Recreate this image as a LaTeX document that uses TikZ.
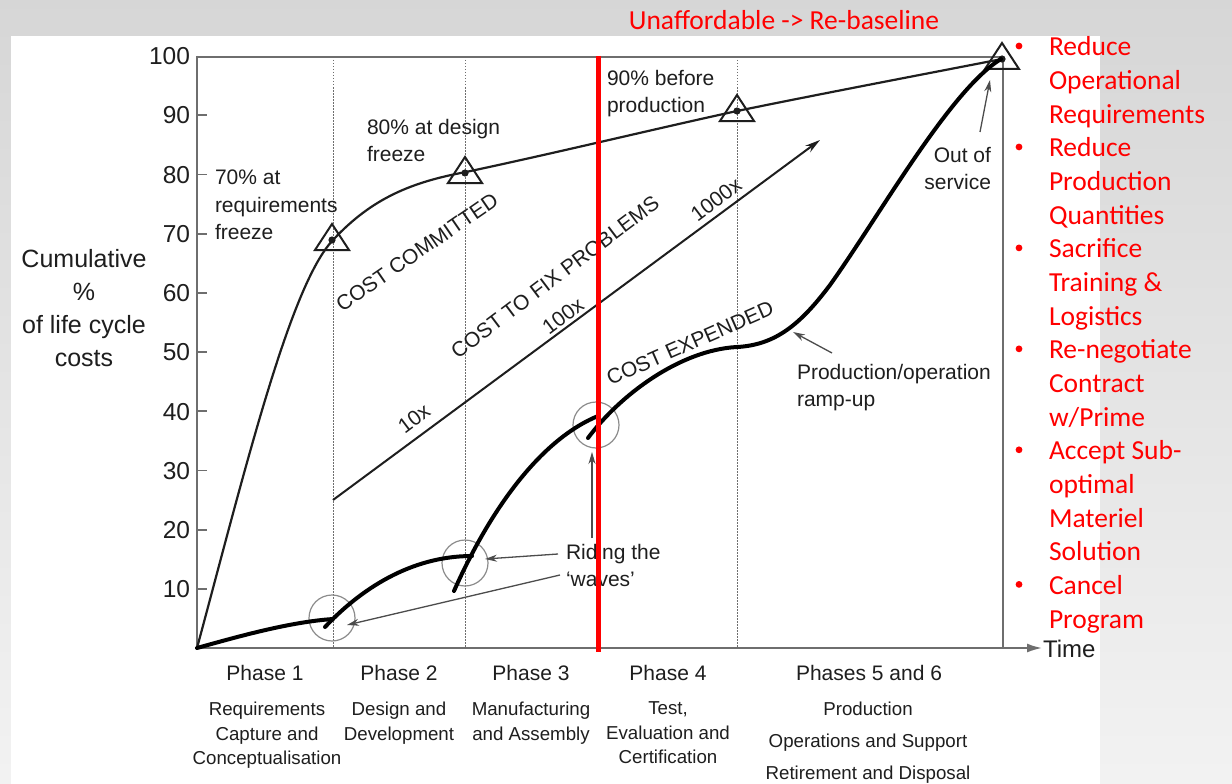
\documentclass[tikz,border=0pt]{standalone}
\usepackage{fontspec}
\setmainfont{Liberation Sans}
\newfontfamily\calib{Carlito}
\usetikzlibrary{arrows.meta}
\definecolor{ink}{HTML}{1E1E1E}
\definecolor{axisgray}{HTML}{6E6E6E}
\definecolor{circgray}{HTML}{8C8C8C}
\begin{document}
\begin{tikzpicture}[x=1pt,y=-1pt,
  every node/.style={inner sep=0pt,outer sep=0pt},
  chart/.style={text=ink},
  f21/.style={chart,font=\fontsize{21}{27.5}\selectfont},
  f19/.style={chart,font=\fontsize{18.7}{24.5}\selectfont},
  ticklbl/.style={chart,font=\fontsize{24.5}{28}\selectfont},
  ylbl/.style={chart,font=\fontsize{25}{33}\selectfont},
  redt/.style={text=red,font=\calib\fontsize{27.5}{33.65}\selectfont},
  axisl/.style={draw=axisgray,line width=1.8pt},
  dotl/.style={draw=axisgray,line width=1pt,dash pattern=on 1.5pt off 1.5pt},
  circl/.style={draw=circgray,line width=1.2pt},
  commit/.style={draw=ink,line width=2.2pt},
  expend/.style={draw=black,line width=4pt,line cap=round},
  tri/.style={draw=ink,line width=2pt,line join=miter},
  fixl/.style={draw=ink,line width=2pt},
  pointer/.style={draw=black!70,line width=1.3pt,-{Stealth[length=12pt,width=7pt]}},
]
\useasboundingbox (0,0) rectangle (1232,784);
% background
\shade[top color=black!16,bottom color=black!5] (0,0) rectangle (1232,784);
\fill[white] (11,36) rectangle (1100,784);

% dotted phase separators
\foreach \x in {333,465,737} \draw[dotl] (\x,57) -- (\x,648);

% frame and axes
\draw[axisl] (197,56) -- (197,648);
\draw[axisl] (197,57) -- (1003,57) -- (1003,648);
\draw[axisl,-{Latex[length=15pt,width=9pt]}] (197,648) -- (1042,648);
\foreach \v in {10,20,...,90} \draw[axisl] (197,{648-5.92*\v}) -- (207,{648-5.92*\v});
\foreach \v in {10,20,...,100} \node[ticklbl,anchor=base east] (t\v) at (190,{648-5.92*\v+8.8}) {\v};

\node[chart,anchor=base west,font=\fontsize{24}{28}\selectfont] (time) at (1043,657) {Time};
\node[ylbl,align=center,anchor=north] (ylab) at (84,249) {Cumulative\\\%\\of life cycle\\costs};

% phase labels
\node[f21,anchor=base] (p1) at (265,680.5) {Phase 1};
\node[f21,anchor=base] (p2) at (399,680.5) {Phase 2};
\node[f21,anchor=base] (p3) at (531,680.5) {Phase 3};
\node[f21,anchor=base] (p4) at (668,680.5) {Phase 4};
\node[f21,anchor=base] (p56) at (869,680.5) {Phases 5 and 6};
\node[f19,align=center,anchor=north] (d1) at (267,702) {Requirements\\Capture and\\Conceptualisation};
\node[f19,align=center,anchor=north] (d2) at (399,702) {Design and\\Development};
\node[f19,align=center,anchor=north] (d3) at (531,702) {Manufacturing\\and Assembly};
\node[f19,align=center,anchor=north] (d4) at (668,702) {Test,\\Evaluation and\\Certification};
\node[chart,font=\fontsize{18.7}{32}\selectfont,align=center,anchor=north] (d56) at (868,702) {Production\\Operations and Support\\Retirement and Disposal};

% riding-the-waves circles
\node[circle,circl,minimum size=46pt] (w1) at (332,618) {};
\node[circle,circl,minimum size=46pt] (w2) at (465,563) {};
\node[circle,circl,minimum size=46pt] (w3) at (596,425) {};

% cost committed curve
\draw[commit] (197,648) .. controls (245,470) and (290,285) .. (333,240)
  .. controls (372,198) and (412,182) .. (466,172)
  .. controls (560,152) and (650,130) .. (737,111)
  .. controls (830,92) and (920,75) .. (1002,59);

% triangles
\foreach \x/\y [count=\i] in {332/240,465/173,737/111,1002/59} {
  \coordinate (m\i) at (\x,\y);
  \draw[tri] (\x,{\y-16}) -- ({\x+17},{\y+10}) -- ({\x-17},{\y+10}) -- cycle;
  \fill[ink] (m\i) circle (3.6);
}

% cost expended curve (waves)
\draw[expend] (197,648) .. controls (240,636) and (290,622) .. (333,619);
\draw[expend] (325,627) .. controls (360,590) and (410,556) .. (472,556);
\draw[expend] (454,591) .. controls (490,510) and (540,440) .. (598,416);
\draw[expend] (588,438) .. controls (620,395) and (680,350) .. (737,347)
  .. controls (775,345) and (800,325) .. (830,285)
  .. controls (880,215) and (950,90) .. (1001,59);

% cost to fix arrow
\coordinate (fix0) at (333,500);
\coordinate (fix1) at (820,140);
\draw[fixl,-{Stealth[length=15pt,width=8pt]}] (fix0) -- (fix1);

% rotated labels
\node[f21,rotate=34.5] (cc) at (417,252) {COST COMMITTED};
\node[f21,rotate=37] (cf) at (555,277) {COST TO FIX PROBLEMS};
\node[f21,rotate=37] (x100) at (563,316) {100x};
\node[f21,rotate=37] (x10) at (414,419) {10x};
\node[f21,rotate=37] (x1000) at (716,200) {1000x};
\node[f21,rotate=23.7] (ce) at (690,343) {COST EXPENDED};

% annotations
\node[f21,align=left,anchor=north west] (a70) at (215,170) {70\% at\\requirements\\freeze};
\node[f21,align=left,anchor=north west] (a80) at (367,119) {80\% at design\\freeze};
\node[f21,align=left,anchor=north west] (a90) at (607,70) {90\% before\\production};
\node[f21,align=right,anchor=north east] (oos) at (991,147) {Out of\\service};
\node[f21,align=left,anchor=north west] (prod) at (797,364) {Production/operation\\ramp-up};
\node[f21,align=left,anchor=north west] (ride) at (566,544) {Riding the\\‘waves’};

% pointers
\coordinate (r1s) at (558,554); \coordinate (r1e) at (485,559);
\coordinate (r2s) at (560,575); \coordinate (r2e) at (347,625);
\coordinate (r3s) at (592,538); \coordinate (r3e) at (592,452);
\draw[pointer] (r1s) -- (r1e);
\draw[pointer] (r2s) -- (r2e);
\draw[pointer] (r3s) -- (r3e);
\coordinate (pas) at (832,353); \coordinate (pae) at (793,332);
\draw[pointer] (pas) -- (pae);
\coordinate (oas) at (980,132); \coordinate (oae) at (990,80);
\draw[pointer] (oas) -- (oae);

% red re-baseline line
\draw[red,line width=5pt] (598,56) -- (598,652);

% red texts
\node[redt,anchor=base] (title) at (784,29.5) {Unaffordable -> Re-baseline};
\foreach \t [count=\i] in {Reduce,Operational,Requirements,Reduce,Production,Quantities,Sacrifice,Training \&,Logistics,Re-negotiate,Contract,w/Prime,Accept Sub-,optimal,Materiel,Solution,Cancel,Program}
  \node[redt,anchor=base west] (rl\i) at (1049,{56+33.65*(\i-1)}) {\t};
\foreach \k in {0,3,6,9,12,16}
  \fill[red] (1019,{46+33.65*\k}) circle (3.4);
\end{tikzpicture}
\end{document}
